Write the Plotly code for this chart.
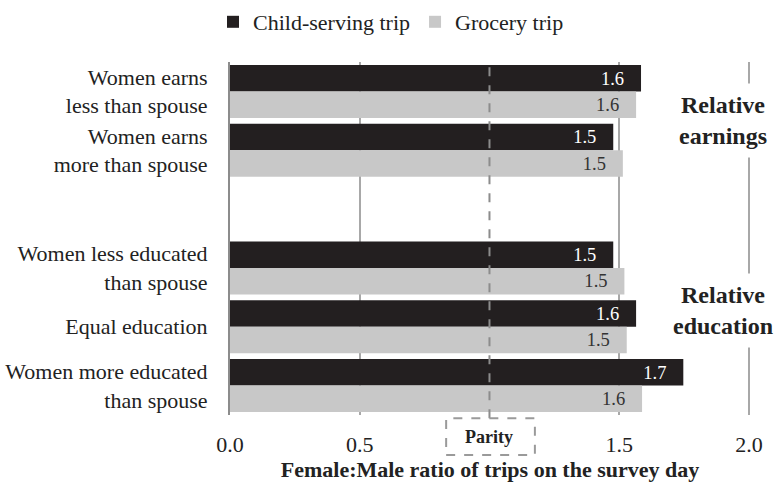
import plotly.graph_objects as go

# ---- data ----
categories = [
    "Women earns<br>less than spouse",
    "Women earns<br>more than spouse",
    "Women less educated<br>than spouse",
    "Equal education",
    "Women more educated<br>than spouse",
]
group_names = ["Relative<br>earnings", "Relative<br>education"]
group_sizes = [2, 3]
child_serving = [1.584, 1.477, 1.477, 1.565, 1.747]
grocery = [1.565, 1.514, 1.520, 1.529, 1.588]
x_tick_vals = [0.0, 0.5, 1.5, 2.0]
x_tick_text = ["0.0", "0.5", "1.5", "2.0"]
parity_value = 1.0

# slot positions: one empty slot between groups
slots = []
pos = 0
for gi, n in enumerate(group_sizes):
    for k in range(n):
        slots.append(pos)
        pos += 1
    pos += 1  # gap slot
n_slots = pos - 1

FONT = "Liberation Serif, Times New Roman, serif"
DARK = "#231f20"
LIGHT = "#c8c8c8"
GRID = "#a8a8a8"
NB = "\u00a0"

fig = go.Figure()
fig.add_trace(go.Bar(
    name="Child-serving trip", y=slots, x=child_serving, orientation="h",
    marker=dict(color=DARK, line=dict(width=0)),
    texttemplate="%{x:.1f}" + NB * 3, textposition="inside",
    insidetextanchor="end", textangle=0,
    insidetextfont=dict(color="white", size=19, family=FONT),
    hoverinfo="skip",
))
fig.add_trace(go.Bar(
    name="Grocery trip", y=slots, x=grocery, orientation="h",
    marker=dict(color=LIGHT, line=dict(width=0)),
    texttemplate="%{x:.1f}" + NB * 3, textposition="inside",
    insidetextanchor="end", textangle=0,
    insidetextfont=dict(color="#333333", size=19, family=FONT),
    hoverinfo="skip",
))

# parity dashed line and box
fig.add_shape(type="line", xref="x", yref="paper", x0=parity_value, x1=parity_value,
              y0=-0.009, y1=1, line=dict(color="#8c8c8c", width=2, dash="dash"), layer="above")
fig.add_shape(type="rect", xref="x", yref="paper", x0=parity_value - 0.167, x1=parity_value + 0.175,
              y0=-0.113, y1=-0.009, line=dict(color="#9a9a9a", width=2, dash="dash"),
              fillcolor="rgba(0,0,0,0)")
fig.add_annotation(x=parity_value, y=-0.062, xref="x", yref="paper", text="<b>Parity</b>",
                   showarrow=False, yanchor="middle", xanchor="center",
                   font=dict(family=FONT, size=18, color="#222"))

# group labels (white background breaks the 2.0 gridline)
group_y = [0.5, 3.72]
for name, gy in zip(group_names, group_y):
    fig.add_annotation(x=1.9, y=gy, xref="x", yref="y", text="<b>" + name + "</b>",
                       showarrow=False, bgcolor="white", borderpad=8,
                       font=dict(family=FONT, size=24, color="#222"))

fig.update_layout(
    width=778, height=488,
    margin=dict(l=230, r=28, t=62, b=73),
    paper_bgcolor="white", plot_bgcolor="white",
    barmode="group", bargap=0.1, bargroupgap=0,
    font=dict(family=FONT, size=22, color="#222"),
    legend=dict(orientation="h", x=213 / 778, xref="container", xanchor="left",
                y=1 - 22 / 488, yref="container", yanchor="middle",
                font=dict(size=22, family=FONT, color="#222"), traceorder="normal"),
    showlegend=True,
)
fig.update_xaxes(
    range=[0, 2.004], tickvals=x_tick_vals, ticktext=x_tick_text,
    showgrid=True, gridcolor=GRID, gridwidth=1.5, zeroline=False, showline=False,
    ticks="outside", ticklen=10, tickcolor="rgba(0,0,0,0)",
    tickfont=dict(size=22, family=FONT, color="#222"),
    title=dict(text="<b>Female:Male ratio of trips on the survey day</b>",
               font=dict(size=22, family=FONT, color="#222"), standoff=4),
    automargin=False,
)
fig.update_yaxes(
    range=[n_slots - 0.5, -0.5], tickvals=slots, ticktext=categories,
    showgrid=False, zeroline=False, showline=True, linecolor="#8c8c8c", linewidth=2,
    ticks="outside", ticklen=16, tickcolor="rgba(0,0,0,0)",
    tickfont=dict(size=22, family=FONT, color="#222"),
    automargin=False,
)

fig.write_html("out.html", config={"displayModeBar": False},
               post_script="document.body.style.margin='0';document.body.style.overflow='hidden';")
